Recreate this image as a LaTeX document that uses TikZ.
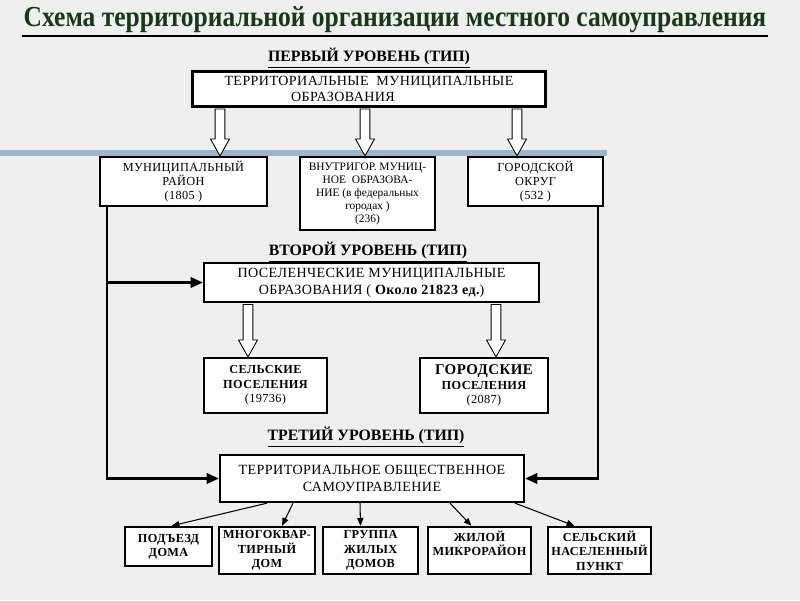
\documentclass[tikz,border=0pt]{standalone}
\usepackage{fontspec}
\setmainfont{Liberation Serif}
\newfontfamily\spacedfont[LetterSpace=3]{Liberation Serif}
\usepackage{tikz}
\usetikzlibrary{positioning}
\usetikzlibrary{arrows.meta,calc}

\definecolor{titlegreen}{RGB}{24,56,24}
\definecolor{barblue}{RGB}{158,182,205}
\definecolor{bggray}{RGB}{239,239,239}

% white block arrow from #1 down to #2
\newcommand{\hollowarrow}[2]{%
  \path[harrow] let \p1 = (#1), \p2 = (#2) in
    (\x1-2.8pt,\y1-0.8pt) -- (\x1-2.8pt,\y2+9.6pt) -- (\x1-5.4pt,\y2+9.6pt)
    -- (\x1,\y2) -- (\x1+5.4pt,\y2+9.6pt) -- (\x1+2.8pt,\y2+9.6pt)
    -- (\x1+2.8pt,\y1-0.8pt) -- cycle;}

\begin{document}
\begin{tikzpicture}[x=0.02cm, y=-0.02cm,
    box/.style = {draw, line width=1.3pt, fill=white, inner sep=1pt, align=center,
                  font=\fontsize{7}{8.2}\selectfont\spacedfont},
    bbox/.style = {box, font=\fontsize{7}{8.2}\selectfont\spacedfont\bfseries},
    level/.style = {font=\fontsize{9}{10}\selectfont\bfseries},
    conn/.style = {line width=1.3pt, -{Triangle[length=7pt, width=6pt]}},
    thinconn/.style = {line width=0.6pt, -{Triangle[length=4.5pt, width=3.5pt]}},
    harrow/.style = {draw, fill=white, line width=0.5pt}]

    \useasboundingbox (0,0) rectangle (800,600);
    \fill[bggray] (0,0) rectangle (800,600);
    \fill[barblue] (0,150) rectangle (607,156);

    \node[font=\fontsize{16.5}{18}\selectfont\bfseries, text=titlegreen] (title) at (395,20)
        {\scalebox{0.88}[1]{Схема территориальной организации местного самоуправления}};
    \draw[line width=1.6pt] (22,36) -- (768,36);

    % first level
    \node[level] (lev1) at (369,58) {\underline{ПЕРВЫЙ УРОВЕНЬ (ТИП)}};
    \node[box, minimum width=7.06cm, minimum height=0.7cm,
          font=\fontsize{8}{9.5}\selectfont\spacedfont] (tmo) at (369,89)
        {ТЕРРИТОРИАЛЬНЫЕ~~МУНИЦИПАЛЬНЫЕ\\ОБРАЗОВАНИЯ\hspace*{1.04cm}};
    \node[box, minimum width=3.34cm, minimum height=0.98cm] (mrn) at (183.5,181.5)
        {МУНИЦИПАЛЬНЫЙ\\РАЙОН\\(1805 )};
    \node[box, minimum width=2.7cm, minimum height=1.46cm,
          font=\fontsize{6.5}{7.4}\selectfont] (vgm) at (367.5,193.5)
        {ВНУТРИГОР. МУНИЦ-\\НОЕ~~ОБРАЗОВА-\\НИЕ (в федеральных\\городах )\\(236)};
    \node[box, minimum width=2.7cm, minimum height=0.98cm] (gok) at (535.5,181.5)
        {ГОРОДСКОЙ\\ОКРУГ\\(532 )};

    % second level
    \node[level] (lev2) at (368,252) {\underline{ВТОРОЙ УРОВЕНЬ (ТИП)}};
    \node[box, minimum width=6.7cm, minimum height=0.78cm,
          font=\fontsize{8}{9.5}\selectfont\spacedfont] (pmo) at (371.5,282.5)
        {ПОСЕЛЕНЧЕСКИЕ МУНИЦИПАЛЬНЫЕ\\ОБРАЗОВАНИЯ ( {\bfseries Около 21823 ед.})};
    \node[bbox, minimum width=2.46cm, minimum height=1.1cm] (selp) at (265.5,385.5)
        {СЕЛЬСКИЕ\\ПОСЕЛЕНИЯ\\{\mdseries (19736)}};
    \node[bbox, minimum width=2.56cm, minimum height=1.1cm] (gorp) at (484,385.5)
        {{\fontsize{8.5}{9}\selectfont ГОРОДСКИЕ}\\ПОСЕЛЕНИЯ\\{\mdseries (2087)}};

    % third level
    \node[level] (lev3) at (366,437) {\underline{ТРЕТИЙ УРОВЕНЬ (ТИП)}};
    \node[box, minimum width=6.08cm, minimum height=0.94cm,
          font=\fontsize{8}{9.5}\selectfont\spacedfont] (tos) at (372,478.5)
        {ТЕРРИТОРИАЛЬНОЕ ОБЩЕСТВЕННОЕ\\САМОУПРАВЛЕНИЕ};
    \node[bbox, minimum width=1.74cm, minimum height=0.78cm] (pod) at (168.5,546.5)
        {ПОДЪЕЗД\\ДОМА};
    \node[bbox, minimum width=1.92cm, minimum height=0.94cm] (mkd) at (267,550.5)
        {МНОГОКВАР-\\ТИРНЫЙ\\ДОМ};
    \node[bbox, minimum width=1.9cm, minimum height=0.94cm] (grp) at (370.5,550.5)
        {ГРУППА\\ЖИЛЫХ\\ДОМОВ};
    \node[bbox, minimum width=2.06cm, minimum height=0.94cm] (mkr) at (479.5,550.5)
        {ЖИЛОЙ\\МИКРОРАЙОН\\\mbox{}};
    \node[bbox, minimum width=2.06cm, minimum height=0.94cm] (snp) at (599.5,550.5)
        {СЕЛЬСКИЙ\\НАСЕЛЕННЫЙ\\ПУНКТ};

    % block arrows
    \hollowarrow{tmo.south -| 220,0}{mrn.north -| 220,0}
    \hollowarrow{tmo.south -| 365,0}{vgm.north -| 365,0}
    \hollowarrow{tmo.south -| 517,0}{gok.north -| 517,0}
    \hollowarrow{pmo.south -| 248,0}{selp.north -| 248,0}
    \hollowarrow{pmo.south -| 496,0}{gorp.north -| 496,0}

    % side lines
    \coordinate (la) at ($(mrn.south west)+(8,0)$);
    \coordinate (rc) at ($(gok.south east)+(-6,0)$);
    \draw[conn] (la) |- (tos.west);
    \draw[conn] (la |- pmo.west) -- (pmo.west);
    \draw[conn] (rc) |- (tos.east);

    % to the lowest units
    \draw[thinconn] ($(tos.south)+(-105,0)$) -- ($(pod.north)+(3,0)$);
    \draw[thinconn] ($(tos.south)+(-79,0)$) -- ($(mkd.north)+(15,0)$);
    \draw[thinconn] ($(tos.south)+(-12,0)$) -- ($(grp.north)+(-10,0)$);
    \draw[thinconn] ($(tos.south)+(78,0)$) -- ($(mkr.north)+(-8,0)$);
    \draw[thinconn] ($(tos.south)+(143,0)$) -- ($(snp.north)+(-25,0)$);

\end{tikzpicture}
\end{document}
